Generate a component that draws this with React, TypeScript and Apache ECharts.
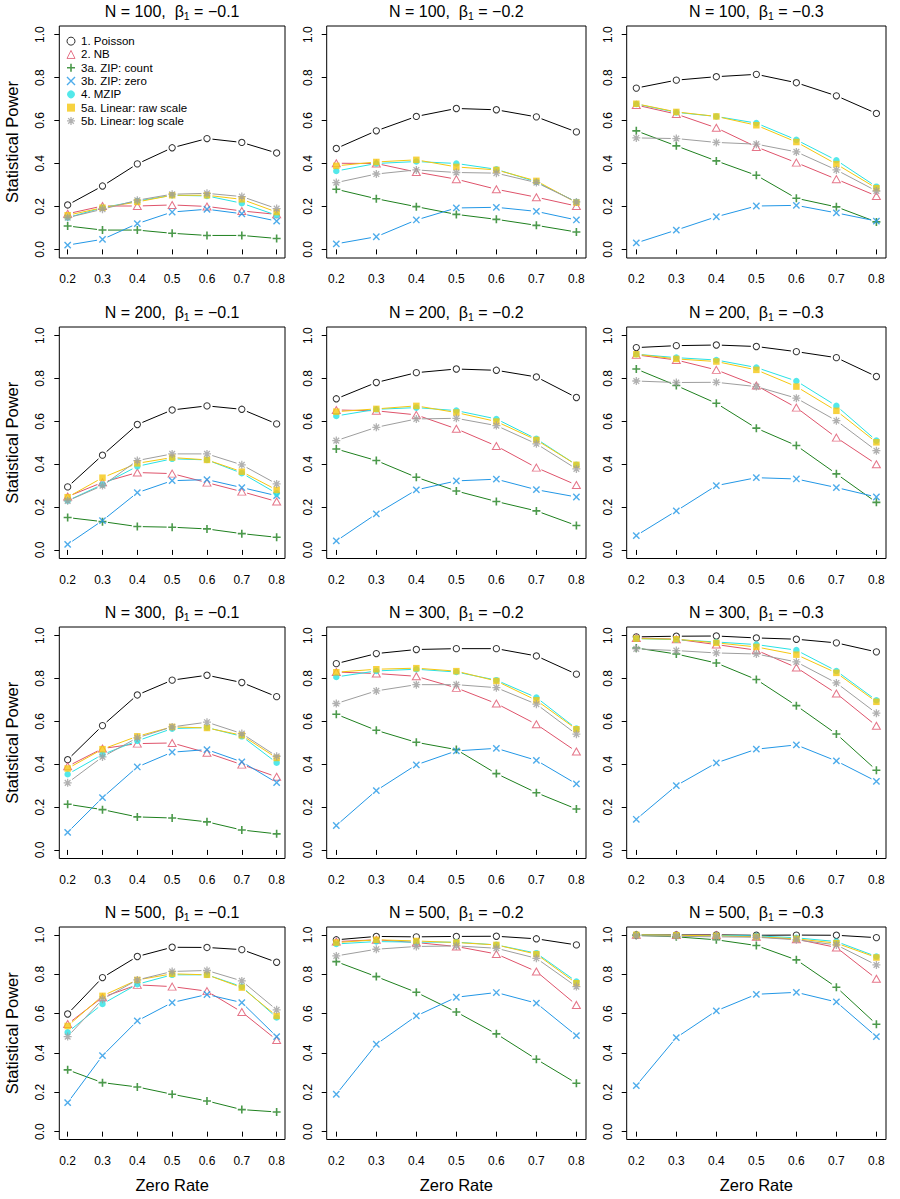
import React, { useEffect, useRef } from "react";
import * as echarts from "echarts";

// ---------- data ----------
const zeroRates = [0.2, 0.3, 0.4, 0.5, 0.6, 0.7, 0.8];
const yTicks = [0, 0.2, 0.4, 0.6, 0.8, 1.0];
const methodNames = [
  "1. Poisson",
  "2. NB",
  "3a. ZIP: count",
  "3b. ZIP: zero",
  "4. MZIP",
  "5a. Linear: raw scale",
  "5b. Linear: log scale",
];
const sampleSizes = [100, 200, 300, 500];
const betaLabels = ["\u22120.1", "\u22120.2", "\u22120.3"];

// rows: Poisson, NB, ZIP count, ZIP zero, MZIP, Linear raw, Linear log
const N100_B1 = [
  [0.207, 0.295, 0.398, 0.473, 0.516, 0.498, 0.449],
  [0.166, 0.202, 0.202, 0.207, 0.2, 0.179, 0.163],
  [0.109, 0.09, 0.09, 0.075, 0.065, 0.065, 0.051],
  [0.02, 0.047, 0.12, 0.174, 0.187, 0.166, 0.132],
  [0.148, 0.194, 0.225, 0.252, 0.249, 0.215, 0.159],
  [0.159, 0.194, 0.221, 0.252, 0.252, 0.233, 0.174],
  [0.148, 0.187, 0.229, 0.257, 0.261, 0.246, 0.19],
];
const N100_B2 = [
  [0.47, 0.552, 0.619, 0.656, 0.65, 0.617, 0.547],
  [0.401, 0.4, 0.36, 0.327, 0.28, 0.243, 0.202],
  [0.28, 0.236, 0.199, 0.163, 0.14, 0.112, 0.081],
  [0.026, 0.059, 0.137, 0.193, 0.196, 0.177, 0.137],
  [0.365, 0.4, 0.409, 0.4, 0.373, 0.314, 0.221],
  [0.389, 0.407, 0.417, 0.384, 0.37, 0.319, 0.218],
  [0.311, 0.351, 0.37, 0.358, 0.355, 0.311, 0.221],
];
const N100_B3 = [
  [0.751, 0.788, 0.804, 0.815, 0.776, 0.715, 0.633],
  [0.672, 0.63, 0.566, 0.477, 0.404, 0.327, 0.249],
  [0.552, 0.482, 0.412, 0.345, 0.238, 0.198, 0.128],
  [0.03, 0.09, 0.152, 0.202, 0.205, 0.17, 0.132],
  [0.677, 0.638, 0.619, 0.588, 0.51, 0.415, 0.292],
  [0.678, 0.64, 0.619, 0.578, 0.5, 0.397, 0.285],
  [0.519, 0.516, 0.498, 0.49, 0.454, 0.37, 0.272],
];
const N200_B1 = [
  [0.294, 0.442, 0.585, 0.653, 0.672, 0.656, 0.588],
  [0.249, 0.315, 0.361, 0.356, 0.314, 0.272, 0.226],
  [0.151, 0.132, 0.109, 0.106, 0.098, 0.076, 0.059],
  [0.026, 0.137, 0.267, 0.323, 0.328, 0.291, 0.253],
  [0.23, 0.305, 0.39, 0.425, 0.42, 0.358, 0.264],
  [0.246, 0.337, 0.404, 0.431, 0.42, 0.365, 0.28],
  [0.229, 0.3, 0.417, 0.448, 0.448, 0.397, 0.308],
];
const N200_B2 = [
  [0.705, 0.781, 0.827, 0.844, 0.838, 0.807, 0.711],
  [0.653, 0.649, 0.63, 0.565, 0.485, 0.384, 0.303],
  [0.471, 0.417, 0.339, 0.275, 0.226, 0.182, 0.114],
  [0.042, 0.168, 0.28, 0.322, 0.33, 0.281, 0.247],
  [0.625, 0.656, 0.664, 0.65, 0.611, 0.518, 0.397],
  [0.645, 0.658, 0.672, 0.641, 0.599, 0.513, 0.397],
  [0.51, 0.572, 0.611, 0.614, 0.58, 0.495, 0.378],
];
const N200_B3 = [
  [0.944, 0.953, 0.956, 0.949, 0.925, 0.897, 0.809],
  [0.91, 0.886, 0.84, 0.767, 0.664, 0.524, 0.4],
  [0.844, 0.767, 0.684, 0.568, 0.487, 0.355, 0.222],
  [0.067, 0.182, 0.3, 0.337, 0.331, 0.291, 0.247],
  [0.913, 0.897, 0.886, 0.851, 0.788, 0.672, 0.51],
  [0.913, 0.891, 0.879, 0.84, 0.762, 0.649, 0.502],
  [0.788, 0.781, 0.782, 0.762, 0.708, 0.603, 0.463],
];
const N300_B1 = [
  [0.421, 0.58, 0.723, 0.792, 0.815, 0.781, 0.715],
  [0.39, 0.473, 0.496, 0.499, 0.453, 0.398, 0.341],
  [0.213, 0.188, 0.154, 0.149, 0.131, 0.093, 0.075],
  [0.082, 0.244, 0.387, 0.456, 0.468, 0.411, 0.314],
  [0.353, 0.445, 0.509, 0.566, 0.571, 0.53, 0.407],
  [0.38, 0.47, 0.53, 0.574, 0.569, 0.535, 0.429],
  [0.313, 0.434, 0.523, 0.574, 0.596, 0.543, 0.437],
];
const N300_B2 = [
  [0.869, 0.916, 0.935, 0.939, 0.939, 0.905, 0.82],
  [0.83, 0.823, 0.81, 0.756, 0.683, 0.586, 0.459],
  [0.633, 0.558, 0.502, 0.468, 0.356, 0.267, 0.191],
  [0.114, 0.277, 0.397, 0.462, 0.474, 0.418, 0.308],
  [0.807, 0.835, 0.843, 0.83, 0.792, 0.711, 0.566],
  [0.829, 0.843, 0.848, 0.834, 0.788, 0.698, 0.563],
  [0.683, 0.742, 0.771, 0.771, 0.757, 0.68, 0.54],
];
const N300_B3 = [
  [0.994, 0.997, 0.998, 0.989, 0.983, 0.966, 0.924],
  [0.989, 0.983, 0.958, 0.932, 0.851, 0.73, 0.579],
  [0.942, 0.914, 0.872, 0.795, 0.673, 0.541, 0.372],
  [0.143, 0.3, 0.406, 0.47, 0.49, 0.415, 0.32],
  [0.986, 0.981, 0.97, 0.958, 0.932, 0.835, 0.698],
  [0.986, 0.983, 0.966, 0.947, 0.911, 0.826, 0.691],
  [0.938, 0.93, 0.919, 0.914, 0.877, 0.779, 0.638],
];
const N500_B1 = [
  [0.598, 0.783, 0.89, 0.937, 0.936, 0.925, 0.861],
  [0.547, 0.683, 0.746, 0.737, 0.714, 0.608, 0.466],
  [0.314, 0.249, 0.227, 0.19, 0.156, 0.112, 0.1],
  [0.147, 0.386, 0.563, 0.656, 0.697, 0.656, 0.483],
  [0.505, 0.649, 0.749, 0.797, 0.797, 0.737, 0.58],
  [0.537, 0.69, 0.771, 0.802, 0.797, 0.732, 0.588],
  [0.483, 0.673, 0.771, 0.814, 0.819, 0.766, 0.619],
];
const N500_B2 = [
  [0.975, 0.992, 0.99, 0.992, 0.993, 0.98, 0.949],
  [0.966, 0.975, 0.961, 0.941, 0.903, 0.814, 0.644],
  [0.864, 0.788, 0.708, 0.608, 0.497, 0.368, 0.246],
  [0.19, 0.444, 0.588, 0.683, 0.707, 0.653, 0.488],
  [0.954, 0.966, 0.963, 0.963, 0.949, 0.907, 0.763],
  [0.961, 0.975, 0.969, 0.961, 0.949, 0.902, 0.754],
  [0.893, 0.927, 0.941, 0.944, 0.932, 0.881, 0.737],
];
const N500_B3 = [
  [1.0, 1.0, 1.0, 0.998, 0.999, 0.998, 0.986],
  [1.0, 0.999, 0.999, 0.99, 0.978, 0.936, 0.777],
  [0.998, 0.99, 0.975, 0.946, 0.873, 0.734, 0.546],
  [0.234, 0.478, 0.614, 0.698, 0.708, 0.659, 0.483],
  [1.0, 0.998, 0.997, 0.995, 0.985, 0.966, 0.89],
  [1.0, 0.998, 0.995, 0.99, 0.98, 0.958, 0.885],
  [0.995, 0.993, 0.99, 0.988, 0.975, 0.949, 0.847],
];

const panelData = [
  [N100_B1, N100_B2, N100_B3],
  [N200_B1, N200_B2, N200_B3],
  [N300_B1, N300_B2, N300_B3],
  [N500_B1, N500_B2, N500_B3],
];

// ---------- styles / layout ----------
const FONT = "'Liberation Sans', Arial, Helvetica, sans-serif";
const ROW_TOP = [26, 327, 627, 927];
const ROW_H = [232, 231.5, 231.5, 212.5];
const COL_LEFT = [59.3, 326.7, 626.7];
const COL_W = [225.7, 259.3, 259.3];
const GAP = 5.5;

const PLUS = "path://M5 0L5 10M0 5L10 5";
const CROSS = "path://M0 0L10 10M10 0L0 10";
const STAR =
  "path://M5 0L5 10M0 5L10 5M1.46 1.46L8.54 8.54M8.54 1.46L1.46 8.54";

const STYLES: any[] = [
  { color: "#000000", symbol: "circle", size: 6.3, hollow: true, bw: 1 },
  { color: "#DF536B", symbol: "triangle", size: [8, 7], hollow: true, bw: 1 },
  { color: "#1E801E", symbol: PLUS, size: 8, hollow: true, bw: 1.6 },
  { color: "#2297E6", symbol: CROSS, size: 6.3, hollow: true, bw: 1.4 },
  { color: "#28E2E5", symbol: "circle", size: 6.5, hollow: false, bw: 0 },
  { color: "#F5C710", symbol: "rect", size: 6.5, hollow: false, bw: 0 },
  { color: "#9E9E9E", symbol: STAR, size: 8, hollow: true, bw: 1.3 },
];

function itemStyleFor(m: number) {
  const s = STYLES[m];
  return s.hollow
    ? { color: "none", borderColor: s.color, borderWidth: s.bw }
    : { color: s.color, borderWidth: 0 };
}

function segRenderer(color: string) {
  return (params: any, api: any) => {
    const a = api.coord([api.value(0), api.value(1)]);
    const b = api.coord([api.value(2), api.value(3)]);
    const dx = b[0] - a[0];
    const dy = b[1] - a[1];
    const len = Math.hypot(dx, dy);
    if (len <= 2 * GAP) return null;
    const ux = dx / len;
    const uy = dy / len;
    return {
      type: "line",
      silent: true,
      shape: {
        x1: a[0] + ux * GAP,
        y1: a[1] + uy * GAP,
        x2: b[0] - ux * GAP,
        y2: b[1] - uy * GAP,
      },
      style: { stroke: color, lineWidth: 1, fill: "none" },
    };
  };
}

function buildOption() {
  const grids: any[] = [];
  const xAxes: any[] = [];
  const yAxes: any[] = [];
  const titles: any[] = [];
  const series: any[] = [];

  for (let r = 0; r < 4; r++) {
    for (let c = 0; c < 3; c++) {
      const idx = r * 3 + c;
      grids.push({
        left: COL_LEFT[c],
        top: ROW_TOP[r],
        width: COL_W[c],
        height: ROW_H[r],
        show: true,
        borderColor: "#000",
        borderWidth: 1,
        backgroundColor: "transparent",
        containLabel: false,
      });
      xAxes.push({
        type: "value",
        gridIndex: idx,
        min: 0.176,
        max: 0.824,
        axisLine: { show: false },
        splitLine: { show: false },
        axisTick: {
          show: true,
          length: 5,
          lineStyle: { color: "#000", width: 1 },
          customValues: zeroRates,
        },
        axisLabel: {
          show: true,
          margin: 15,
          fontSize: 12,
          color: "#000",
          fontFamily: FONT,
          customValues: zeroRates,
          formatter: (v: number) => v.toFixed(1),
        },
        name: r === 3 ? "Zero Rate" : "",
        nameLocation: "middle",
        nameGap: 37,
        nameTextStyle: { fontSize: 16.5, color: "#000", fontFamily: FONT },
      });
      yAxes.push({
        type: "value",
        gridIndex: idx,
        min: -0.04,
        max: 1.04,
        axisLine: { show: false },
        splitLine: { show: false },
        axisTick: {
          show: true,
          length: 5,
          lineStyle: { color: "#000", width: 1 },
          customValues: yTicks,
        },
        axisLabel: {
          show: true,
          rotate: 90,
          margin: 13,
          fontSize: 12,
          color: "#000",
          fontFamily: FONT,
          customValues: yTicks,
          formatter: (v: number) => v.toFixed(1),
        },
        name: c === 0 ? "Statistical Power" : "",
        nameLocation: "middle",
        nameRotate: 90,
        nameGap: 39,
        nameTextStyle: { fontSize: 16.5, color: "#000", fontFamily: FONT },
      });
      titles.push({
        text: `{a|N = ${sampleSizes[r]},  \u03B2}{b|1}{a| = ${betaLabels[c]}}`,
        left: COL_LEFT[c] + COL_W[c] / 2,
        top: ROW_TOP[r] - 25,
        textAlign: "center",
        padding: 0,
        textStyle: {
          fontWeight: "normal",
          rich: {
            a: {
              fontSize: 16,
              lineHeight: 20,
              color: "#000",
              fontWeight: "normal",
              fontFamily: FONT,
            },
            b: {
              fontSize: 10.5,
              lineHeight: 11,
              verticalAlign: "bottom",
              color: "#000",
              fontWeight: "normal",
              fontFamily: FONT,
            },
          },
        },
      });

      const block = panelData[r][c];
      for (let m = 0; m < 7; m++) {
        const vals = block[m];
        const s = STYLES[m];
        const segs: number[][] = [];
        for (let k = 0; k < zeroRates.length - 1; k++) {
          segs.push([zeroRates[k], vals[k], zeroRates[k + 1], vals[k + 1]]);
        }
        series.push({
          type: "custom",
          name: `seg-${idx}-${m}`,
          xAxisIndex: idx,
          yAxisIndex: idx,
          silent: true,
          dimensions: ["x0", "y0", "x1", "y1"],
          encode: { x: [0, 2], y: [1, 3] },
          data: segs,
          renderItem: segRenderer(s.color),
        });
        series.push({
          type: "scatter",
          name: methodNames[m],
          xAxisIndex: idx,
          yAxisIndex: idx,
          silent: true,
          symbol: s.symbol,
          symbolSize: s.size,
          itemStyle: itemStyleFor(m),
          emphasis: { disabled: true },
          data: zeroRates.map((x, k) => [x, vals[k]]),
        });
      }
    }
  }

  const legendData = methodNames.map((name, m) => ({
    name,
    icon: STYLES[m].symbol,
    itemStyle: itemStyleFor(m),
  }));

  return {
    animation: false,
    backgroundColor: "#ffffff",
    textStyle: { fontFamily: FONT },
    title: titles,
    grid: grids,
    xAxis: xAxes,
    yAxis: yAxes,
    legend: {
      show: true,
      orient: "vertical",
      left: 64.5,
      top: 34.5,
      padding: 0,
      itemWidth: 8,
      itemHeight: 8,
      itemGap: 0,
      selectedMode: false,
      data: legendData,
      textStyle: {
        fontSize: 11.5,
        lineHeight: 13.3,
        color: "#000",
        fontFamily: FONT,
        padding: [0, 0, 0, 1],
      },
    },
    series,
  };
}

export default function App() {
  const ref = useRef<HTMLDivElement>(null);
  useEffect(() => {
    document.body.style.margin = "0";
    if (!ref.current) return;
    const chart = echarts.init(ref.current, undefined, { renderer: "svg" });
    chart.setOption(buildOption() as any);
    return () => chart.dispose();
  }, []);
  return <div ref={ref} style={{ width: 900, height: 1199 }} />;
}
